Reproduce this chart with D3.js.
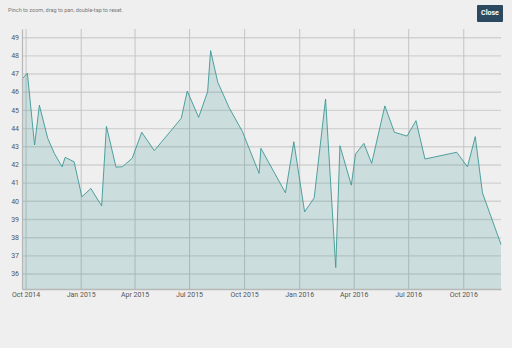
<!DOCTYPE html>
<html>
<head>
<meta charset="utf-8">
<script src="https://cdn.jsdelivr.net/npm/d3@7"></script>
<style>
  body { margin: 0; background: #efefef; font-family: Roboto, sans-serif; }
  #chart { position: relative; width: 512px; height: 348px; }
  .hint { position: absolute; left: 8px; top: 7px; font-size: 5.5px; color: #777; }
  .close { position: absolute; left: 477px; top: 5px; width: 26px; height: 17px; background: #2b4a62;
           color: #fff; font-size: 7px; font-weight: bold; line-height: 17px; text-align: center; border-radius: 1px; }
</style>
</head>
<body>
<div id="chart">
  <div class="hint">Pinch to zoom, drag to pan, double-tap to reset.</div>
  <div class="close">Close</div>
</div>
<script>
// readings taken off the chart
var dates = ["2014-09-25","2014-10-04","2014-10-16","2014-10-24","2014-11-07","2014-11-18","2014-12-01",
    "2014-12-06","2014-12-21","2015-01-03","2015-01-18","2015-02-05","2015-02-13","2015-03-01","2015-03-12",
    "2015-03-28","2015-04-13","2015-05-04","2015-06-18","2015-06-28","2015-07-17","2015-08-01","2015-08-06",
    "2015-08-18","2015-09-06","2015-09-28","2015-10-26","2015-10-29","2015-12-09","2015-12-23","2016-01-10",
    "2016-01-26","2016-02-14","2016-03-02","2016-03-09","2016-03-28","2016-04-04","2016-04-18","2016-05-01",
    "2016-05-23","2016-06-08","2016-06-29","2016-07-14","2016-07-29","2016-09-20","2016-10-08","2016-10-21",
    "2016-11-02","2016-12-03"];
var values = [46.69, 47.02, 43.07, 45.26, 43.44, 42.61, 41.87,
    42.39, 42.15, 40.22, 40.68, 39.72, 44.1, 41.85, 41.88,
    42.34, 43.77, 42.76, 44.54, 46.04, 44.59, 46.0, 48.26,
    46.52, 45.12, 43.82, 41.51, 42.89, 40.44, 43.25, 39.39,
    40.17, 45.6, 36.33, 43.03, 40.86, 42.57, 43.16, 42.06,
    45.22, 43.77, 43.56, 44.41, 42.3, 42.67, 41.87, 43.53,
    40.44, 37.6];
var yTicks = d3.range(36, 50);

var parse = d3.timeParse("%Y-%m-%d");
var data = dates.map(function (d, i) { return {x: parse(d), y: values[i]}; });

var plot = {left: 22, right: 501, top: 29, bottom: 289};

var svg = d3.select("#chart").append("svg")
    .attr("width", 512).attr("height", 348)
    .style("position", "absolute").style("left", 0).style("top", 0);

var x = d3.scaleTime()
    .domain(d3.extent(data, function (d) { return d.x; }))
    .range([plot.left, plot.right]);
var y = d3.scaleLinear()
    .domain([35.15, 49.45])
    .range([plot.bottom, plot.top]);

// horizontal grid
svg.append("g")
    .attr("transform", "translate(" + plot.left + ",0)")
    .call(d3.axisLeft(y).tickValues(yTicks).tickSize(-(plot.right - plot.left)).tickFormat(""))
    .call(function (g) {
        g.select(".domain").remove();
        g.selectAll("line").attr("stroke", "#d2d2d2").attr("stroke-width", 1.4);
    });

// vertical grid
svg.append("g")
    .attr("transform", "translate(0," + plot.bottom + ")")
    .call(d3.axisBottom(x).ticks(d3.timeMonth.every(3)).tickSize(-(plot.bottom - plot.top)).tickFormat(""))
    .call(function (g) {
        g.select(".domain").remove();
        g.selectAll("line").attr("stroke", "#c4c4c4").attr("stroke-width", 1);
    });

var area = d3.area()
    .x(function (d) { return x(d.x); })
    .y0(plot.bottom)
    .y1(function (d) { return y(d.y); });
var line = d3.line()
    .x(function (d) { return x(d.x); })
    .y(function (d) { return y(d.y); });

svg.append("path").datum(data)
    .attr("d", area)
    .attr("fill", "rgb(0,120,115)")
    .attr("fill-opacity", 0.15);

svg.append("path").datum(data)
    .attr("d", line)
    .attr("fill", "none")
    .attr("stroke", "#3c9896")
    .attr("stroke-width", 0.9);

// axes
svg.append("g")
    .attr("transform", "translate(" + plot.left + ",0)")
    .call(d3.axisLeft(y).tickValues(yTicks).tickSize(0).tickPadding(3).tickFormat(d3.format("d")))
    .call(function (g) {
        g.select(".domain").attr("stroke", "#b8b8b8").attr("stroke-width", 1.2);
        g.selectAll("text").attr("fill", "#555").style("font-size", "7px").style("font-family", "Roboto, sans-serif");
    });

svg.append("g")
    .attr("transform", "translate(0," + plot.bottom + ")")
    .call(d3.axisBottom(x).ticks(d3.timeMonth.every(3)).tickSize(0).tickPadding(3.5)
        .tickFormat(d3.timeFormat("%b %Y")))
    .call(function (g) {
        g.select(".domain").attr("stroke", "#b8b8b8").attr("stroke-width", 1.4);
        g.selectAll("text").attr("fill", "#555").style("font-size", "7px").style("font-family", "Roboto, sans-serif");
    });
</script>
</body>
</html>
